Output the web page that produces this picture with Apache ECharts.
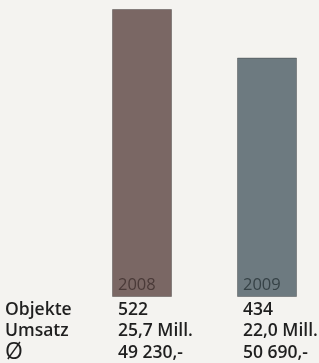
<!DOCTYPE html>
<html>
<head>
<meta charset="utf-8">
<script src="https://cdn.jsdelivr.net/npm/echarts@6/dist/echarts.min.js"></script>
<style>
  html, body { margin: 0; padding: 0; background: #f4f3f0; }
  #chart { width: 319px; height: 363px; }
</style>
</head>
<body>
<div id="chart"></div>
<script>
// Jahre / Werte
var years = ['2008', '2009'];
var objekte = [522, 434];            // Balkenhöhe
var umsatz = ['25,7 Mill.', '22,0 Mill.'];
var schnitt = ['49 230,-', '50 690,-'];
var rowLabels = ['Objekte', 'Umsatz', 'Ø'];

var barColors = ['#7a6764', '#6d7a80'];
var yearColors = ['#4a3a38', '#364246'];
var textColor = '#1f1f1f';
var rowH = 21.5;

var chart = echarts.init(document.getElementById('chart'));

var barData = objekte.map(function (v, i) {
    return {
        value: v,
        itemStyle: { color: barColors[i], borderColor: 'rgba(40,40,40,0.35)', borderWidth: 1 },
        label: {
            formatter: '{yr|' + years[i] + '}\n{v|' + v + '}\n{v|' + umsatz[i] + '}\n{v|' + schnitt[i] + '}',
            rich: {
                yr: { color: yearColors[i], fontSize: 16.5, lineHeight: 28, fontFamily: 'Open Sans' },
                v: { color: textColor, fontSize: 17.5, fontWeight: 600, lineHeight: rowH, fontFamily: 'Open Sans' }
            }
        }
    };
});

// Zeilenbeschriftungen links
var rowGraphics = rowLabels.map(function (t, i) {
    var big = t === 'Ø';
    return {
        type: 'text',
        left: 5,
        top: 299 + i * rowH + (big ? -1 : 0),
        style: {
            text: t,
            fill: textColor,
            font: (big ? '400 23' : '600 17.5') + 'px "Open Sans"',
            lineHeight: rowH
        }
    };
});

var option = {
    backgroundColor: '#f4f3f0',
    animation: false,
    grid: { left: 142, right: 52, top: 9, bottom: 66 },
    xAxis: {
        type: 'category',
        data: years,
        boundaryGap: false,
        show: false
    },
    yAxis: {
        type: 'value',
        min: 0,
        max: 522,
        show: false
    },
    series: [{
        type: 'bar',
        barWidth: 60,
        data: barData,
        label: {
            show: true,
            position: [6, '100%'],
            offset: [0, -26],
            align: 'left',
            verticalAlign: 'top'
        }
    }],
    graphic: rowGraphics
};

chart.setOption(option);
</script>
</body>
</html>
